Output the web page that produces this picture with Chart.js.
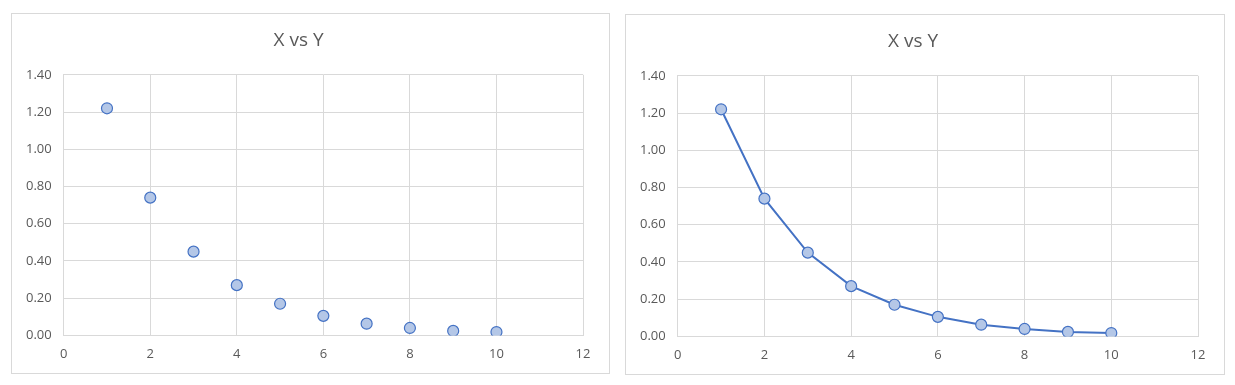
<!DOCTYPE html>
<html>
<head>
<meta charset="utf-8">
<script src="https://cdn.jsdelivr.net/npm/chart.js@4"></script>
<style>
  body { margin: 0; background: #fff; }
  .box { position: absolute; border: 1px solid #d9d9d9; background: #fff; }
  #b1 { left: 11px; top: 13px; width: 597px; height: 359px; }
  #b2 { left: 625px; top: 14px; width: 598px; height: 359px; }
</style>
</head>
<body>
<div class="box" id="b1"><canvas id="c1"></canvas></div>
<div class="box" id="b2"><canvas id="c2"></canvas></div>
<script>
var xValues = [1, 2, 3, 4, 5, 6, 7, 8, 9, 10];
var yValues = [1.22, 0.74, 0.45, 0.27, 0.17, 0.105, 0.063, 0.04, 0.024, 0.018];
var chartTitle = 'X vs Y';

var points = xValues.map(function (x, i) { return { x: x, y: yValues[i] }; });

function makeChart(id, withLine) {
    var ctx = document.getElementById(id).getContext('2d');
    return new Chart(ctx, {
        type: 'scatter',
        data: {
            datasets: [{
                label: 'Y',
                data: points,
                showLine: withLine,
                borderColor: '#4472c4',
                borderWidth: 2,
                tension: 0,
                pointRadius: 5.5,
                pointHoverRadius: 5.5,
                pointBackgroundColor: '#b4c7e7',
                pointBorderColor: '#4472c4',
                pointBorderWidth: 1.2
            }]
        },
        options: {
            responsive: true,
            maintainAspectRatio: false,
            animation: false,
            layout: { padding: { left: 2, right: 26, top: 0, bottom: 0 } },
            plugins: {
                legend: { display: false },
                tooltip: { enabled: false },
                title: {
                    display: true,
                    text: chartTitle,
                    color: '#595959',
                    font: { family: 'Open Sans', size: 19, weight: 'normal' },
                    padding: { top: 15, bottom: 23 }
                }
            },
            scales: {
                x: {
                    type: 'linear',
                    min: 0,
                    max: 12,
                    ticks: {
                        stepSize: 2,
                        padding: 11,
                        color: '#595959',
                        font: { family: 'Open Sans', size: 13 }
                    },
                    grid: { color: '#d9d9d9', drawTicks: false },
                    border: { color: '#d9d9d9' }
                },
                y: {
                    min: 0,
                    max: 1.4,
                    ticks: {
                        stepSize: 0.2,
                        padding: 12,
                        color: '#595959',
                        font: { family: 'Open Sans', size: 13 },
                        callback: function (v) { return v.toFixed(2); }
                    },
                    grid: { color: '#d9d9d9', drawTicks: false },
                    border: { color: '#d9d9d9' }
                }
            }
        }
    });
}

makeChart('c1', false);
makeChart('c2', true);
</script>
</body>
</html>
